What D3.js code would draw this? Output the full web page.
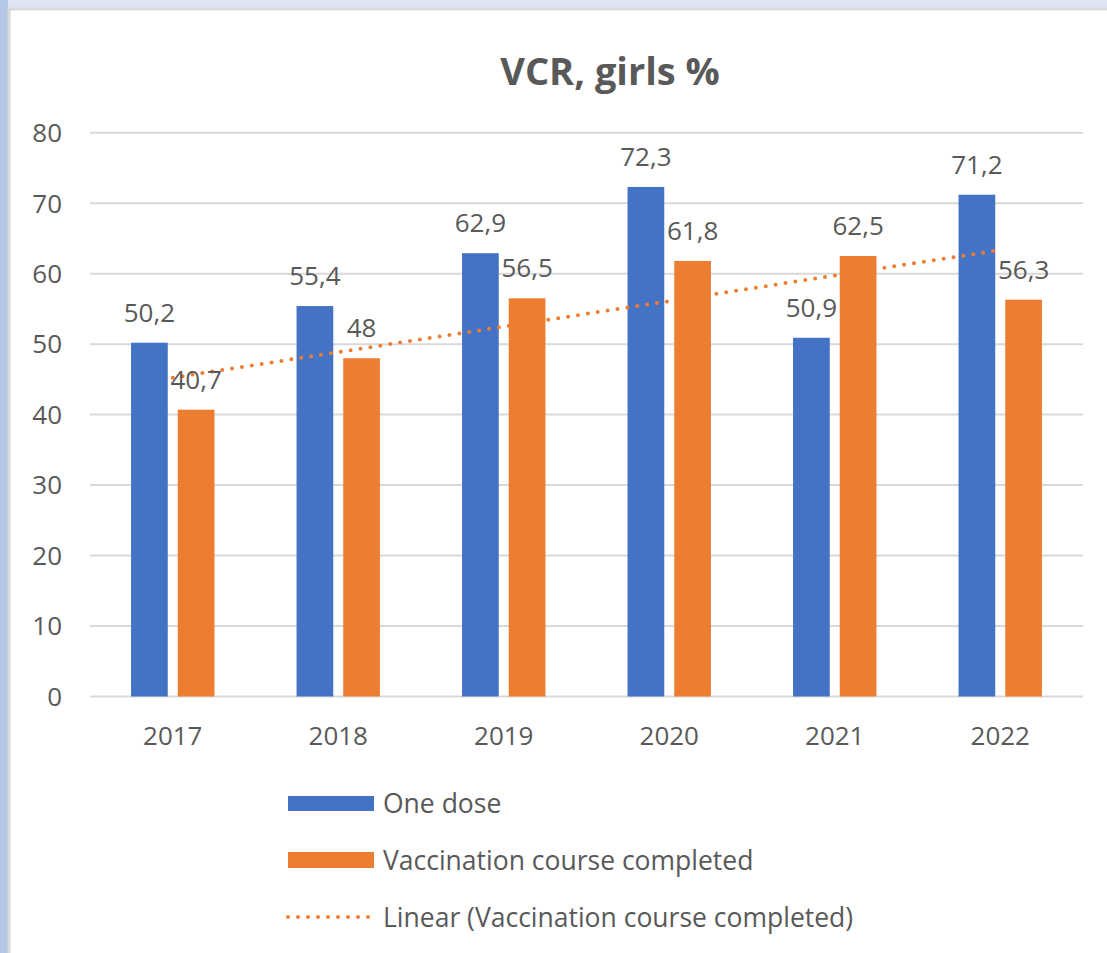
<!DOCTYPE html>
<html>
<head>
<meta charset="utf-8">
<script src="https://cdn.jsdelivr.net/npm/d3@7"></script>
<style>
  body { margin: 0; background: #fff; }
  text { font-family: "Open Sans", "Noto Sans", sans-serif; fill: #595959; }
</style>
</head>
<body>
<svg id="svg" width="1107" height="953"></svg>
<script>
// DATA
var years = ["2017", "2018", "2019", "2020", "2021", "2022"];
var oneDose = [50.2, 55.4, 62.9, 72.3, 50.9, 71.2];
var courseCompleted = [40.7, 48, 56.5, 61.8, 62.5, 56.3];
var yTicks = [0, 10, 20, 30, 40, 50, 60, 70, 80];
var seriesNames = ["One dose", "Vaccination course completed", "Linear (Vaccination course completed)"];

var blue = "#4472c4", orange = "#ed7d31";

var svg = d3.select("#svg");

// frame (window edge look)
svg.append("rect").attr("x", 0).attr("y", 0).attr("width", 1107).attr("height", 8).attr("fill", "#dde5f2");
svg.append("rect").attr("x", 0).attr("y", 0).attr("width", 8).attr("height", 953).attr("fill", "#b4c7e7");
svg.append("line").attr("x1", 8).attr("x2", 1107).attr("y1", 9).attr("y2", 9)
  .attr("stroke", "#d9d9d9").attr("stroke-width", 3);
svg.append("line").attr("x1", 9).attr("x2", 9).attr("y1", 8).attr("y2", 953)
  .attr("stroke", "#d9d9d9").attr("stroke-width", 3);

var margin = { left: 90, right: 1083, top: 132.7, bottom: 696.5 };

var x = d3.scaleBand().domain(years).range([margin.left, margin.right]).paddingInner(0).paddingOuter(0);
var x1 = d3.scaleBand().domain(["one", "course"]).range([-41.7, 41.7]).paddingInner(0.214);
var y = d3.scaleLinear().domain([0, 80]).range([margin.bottom, margin.top]);

// gridlines
svg.append("g").selectAll("line")
  .data(yTicks)
  .enter().append("line")
    .attr("x1", margin.left).attr("x2", margin.right)
    .attr("y1", function(d) { return y(d); })
    .attr("y2", function(d) { return y(d); })
    .attr("stroke", "#d9d9d9")
    .attr("stroke-width", 2);

// y tick labels
svg.append("g").selectAll("text")
  .data(yTicks)
  .enter().append("text")
    .attr("x", 62)
    .attr("y", function(d) { return y(d); })
    .attr("dy", "0.36em")
    .attr("text-anchor", "end")
    .style("font-size", "26px")
    .text(function(d) { return d; });

// x labels
svg.append("g").selectAll("text")
  .data(years)
  .enter().append("text")
    .attr("x", function(d) { return x(d) + x.bandwidth() / 2; })
    .attr("y", 745)
    .attr("text-anchor", "middle")
    .style("font-size", "26px")
    .text(function(d) { return d; });

var rows = years.map(function(yr, i) {
  return { year: yr, one: oneDose[i], course: courseCompleted[i] };
});

function fmt(v) { return String(v).replace(".", ","); }

function barX(d, key) {
  return x(d.year) + x.bandwidth() / 2 + x1(key);
}

["one", "course"].forEach(function(key) {
  var g = svg.append("g");
  g.selectAll("rect")
    .data(rows)
    .enter().append("rect")
      .attr("x", function(d) { return barX(d, key); })
      .attr("y", function(d) { return y(d[key]); })
      .attr("width", x1.bandwidth())
      .attr("height", function(d) { return y(0) - y(d[key]); })
      .attr("fill", key == "one" ? blue : orange);
});

// trendline (least squares on course completed)
var n = courseCompleted.length;
var mx = d3.mean(d3.range(1, n + 1)), my = d3.mean(courseCompleted);
var sxy = 0, sxx = 0;
courseCompleted.forEach(function(v, i) { sxy += (i + 1 - mx) * (v - my); sxx += (i + 1 - mx) * (i + 1 - mx); });
var slope = sxy / sxx, icpt = my - slope * mx;

var line = d3.line()
  .x(function(d) { return x(d) + x.bandwidth() / 2; })
  .y(function(d, i) { return y(icpt + slope * (i + 1)); });

svg.append("path")
  .datum(years)
  .attr("d", line)
  .attr("fill", "none")
  .attr("stroke", orange)
  .attr("stroke-width", 4)
  .attr("stroke-linecap", "round")
  .attr("stroke-dasharray", "0,10");

// data labels
["one", "course"].forEach(function(key) {
  svg.append("g").selectAll("text")
    .data(rows)
    .enter().append("text")
      .attr("x", function(d) { return barX(d, key) + x1.bandwidth() / 2; })
      .attr("y", function(d) { return y(d[key]) - 21; })
      .attr("text-anchor", "middle")
      .style("font-size", "26px")
      .text(function(d) { return fmt(d[key]); });
});

// title
svg.append("text")
  .attr("x", 610)
  .attr("y", 85)
  .attr("text-anchor", "middle")
  .style("font-size", "38px")
  .style("font-weight", "bold")
  .text("VCR, girls %");

// legend
var legend = svg.append("g");
var legY = [803.5, 860, 917];
legend.append("rect").attr("x", 288).attr("y", 796).attr("width", 86).attr("height", 15).attr("fill", blue);
legend.append("rect").attr("x", 288).attr("y", 852).attr("width", 86).attr("height", 16).attr("fill", orange);
legend.append("line")
  .attr("x1", 288).attr("x2", 370).attr("y1", legY[2]).attr("y2", legY[2])
  .attr("stroke", orange).attr("stroke-width", 4)
  .attr("stroke-linecap", "round").attr("stroke-dasharray", "0,10");

legend.selectAll("text")
  .data(seriesNames)
  .enter().append("text")
    .attr("x", 383)
    .attr("y", function(d, i) { return legY[i]; })
    .attr("dy", "0.36em")
    .style("font-size", "26.5px")
    .text(function(d) { return d; });
</script>
</body>
</html>
